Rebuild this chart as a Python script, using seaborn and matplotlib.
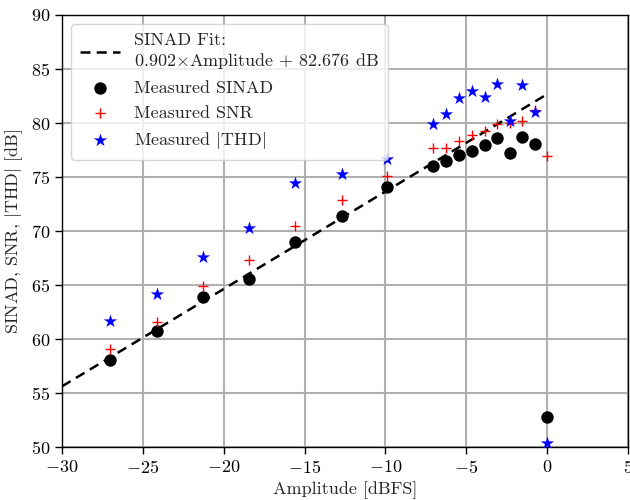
import matplotlib
matplotlib.use("Agg")
import matplotlib.pyplot as plt
import seaborn as sns
import numpy as np
import pandas as pd

# Data
amplitude = [-27.03, -24.12, -21.27, -18.43, -15.58, -12.68, -9.89, -7.05, -6.25,
             -5.44, -4.64, -3.83, -3.09, -2.29, -1.55, -0.74, 0.0]
sinad = [58.1, 60.7, 63.85, 65.55, 69.0, 71.4, 74.07, 76.0, 76.5,
         77.04, 77.44, 77.96, 78.64, 77.25, 78.68, 78.03, 52.78]
snr = [59.1, 61.6, 64.94, 67.31, 70.46, 72.87, 75.1, 77.7, 77.7,
       78.33, 78.9, 79.26, 79.88, 80.0, 80.2, 81.2, 76.94]
thd = [61.67, 64.17, 67.6, 70.28, 74.44, 75.28, 76.67, 79.9, 80.83,
       82.35, 82.96, 82.44, 83.58, 80.2, 83.52, 81.05, 50.37]
fit_slope = 0.902
fit_intercept = 82.676
fit_x = [-30, 0]

sns.set_style("white")
plt.rcParams.update({
    "font.family": "serif",
    "font.serif": ["cmr10"],
    "mathtext.fontset": "cm",
    "axes.formatter.use_mathtext": True,
    "axes.unicode_minus": True,
    "font.size": 13,
})

df = pd.DataFrame({"amp": amplitude, "sinad": sinad, "snr": snr, "thd": thd})
fit_df = pd.DataFrame({"x": fit_x, "y": [fit_slope * v + fit_intercept for v in fit_x]})

fig = plt.figure(figsize=(6.3, 5), dpi=100)
ax = fig.add_axes([0.0984, 0.106, 0.8986, 0.864])

sns.lineplot(data=fit_df, x="x", y="y", ax=ax, color="black", linestyle="--", linewidth=1.8,
             label="SINAD Fit:\n$0.902{\\times}$Amplitude $+$ 82.676 dB")
ax.lines[-1].set_dashes((4, 2.5))
sns.scatterplot(data=df, x="amp", y="sinad", ax=ax, color="black", marker="o", s=80,
                edgecolor="black", linewidth=0, label="Measured SINAD", zorder=3)
sns.scatterplot(data=df, x="amp", y="snr", ax=ax, color="red", marker="+", s=60,
                linewidth=1.0, label="Measured SNR", zorder=3)
sns.scatterplot(data=df, x="amp", y="thd", ax=ax, color="blue", marker="*", s=100,
                linewidth=0, label="Measured $|$THD$|$", zorder=4)

ax.set_xlim(-30, 5)
ax.set_ylim(50, 90)
ax.set_xticks(np.arange(-30, 6, 5))
ax.set_yticks(np.arange(50, 91, 5))
ax.grid(True, color="#b0b0b0", linewidth=1.5)
ax.set_axisbelow(True)
for s in ax.spines.values():
    s.set_color("black")
    s.set_linewidth(1.0)
ax.tick_params(direction="out", length=5, width=1, colors="black", labelsize=13,
               bottom=True, left=True)
ax.set_xlabel("Amplitude [dBFS]", fontsize=13)
ax.set_ylabel("SINAD, SNR, $|$THD$|$ [dB]", fontsize=13)

ax.legend(loc="upper left", fontsize=13, framealpha=0.8, fancybox=True,
          borderpad=0.5, handlelength=2.2, edgecolor="#cccccc")

fig.savefig("out.png", dpi=100)
